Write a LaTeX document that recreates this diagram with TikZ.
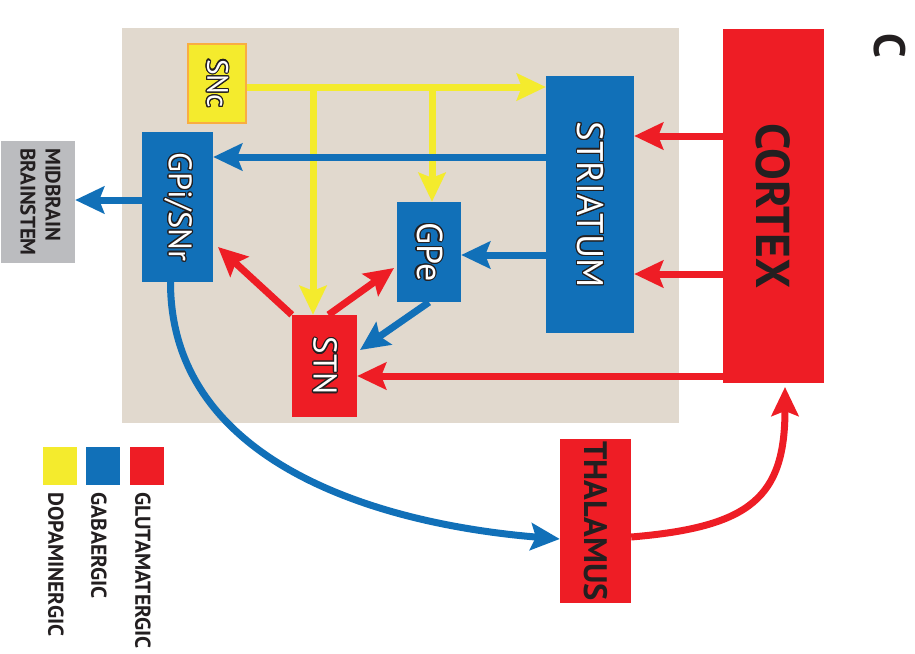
\documentclass[tikz,border=0pt]{standalone}
\usepackage{fontspec}
\setmainfont{PT Sans}
\usepackage{graphicx}
\usepackage{contour}
\contourlength{1.2pt}
\usetikzlibrary{arrows.meta}

\definecolor{dopayellow}{HTML}{F4EB2D}
\definecolor{gabablue}{HTML}{1170B8}
\definecolor{glutred}{HTML}{EE1D25}
\definecolor{basalbeige}{HTML}{E1D9CE}
\definecolor{stemgray}{HTML}{BBBCBF}
\definecolor{sncorange}{HTML}{F9AD42}
\definecolor{inkblack}{HTML}{231F20}

\newcommand{\OutlineLabel}[2]{\rotatebox{-90}{\fontsize{#1}{#1}\selectfont\contour{inkblack}{\textcolor{white}{#2}}}}
\newcommand{\InkLabel}[2]{\rotatebox{-90}{\fontsize{#1}{#1}\selectfont\bfseries\textcolor{inkblack}{#2}}}

\tikzset{
  BoxStyle/.style={rectangle, inner sep=0pt},
  EdgeStyle/.style={line width=7pt, -{Stealth[length=29pt,width=27pt,inset=5pt]}},
  DopaEdge/.style={EdgeStyle, draw=dopayellow},
  GabaEdge/.style={EdgeStyle, draw=gabablue},
  GlutEdge/.style={EdgeStyle, draw=glutred},
  KeyBox/.style={BoxStyle, minimum width=34pt, minimum height=38pt},
  KeyText/.style={rotate=-90, anchor=west, inner sep=0pt, text=inkblack, font=\bfseries\fontsize{21.5}{21.5}\selectfont}
}

\begin{document}
\begin{tikzpicture}[x=1pt,y=-1pt]
\useasboundingbox (0,0) rectangle (915,653);

% boxes
\node[BoxStyle, fill=basalbeige, minimum width=557pt, minimum height=395pt] (basal) at (400.5,225.5) {};
\node[BoxStyle, fill=dopayellow, draw=sncorange, line width=1.5pt, minimum width=58pt, minimum height=79pt] (snc) at (217,83.5) {\OutlineLabel{29.5}{SNc}};
\node[BoxStyle, fill=gabablue, minimum width=71pt, minimum height=150pt] (gpi) at (177.5,207) {\OutlineLabel{32.5}{GPi/SNr}};
\node[BoxStyle, fill=stemgray, minimum width=74pt, minimum height=122pt] (midbrain) at (38,202) {\rotatebox{-90}{\fontsize{21}{25}\selectfont\bfseries\color{inkblack}\begin{tabular}{@{}l@{}}MIDBRAIN\\BRAINSTEM\end{tabular}}};
\node[BoxStyle, fill=gabablue, minimum width=88pt, minimum height=257pt] (striatum) at (590,204.5) {\OutlineLabel{37}{STRIATUM}};
\node[BoxStyle, fill=glutred, minimum width=101pt, minimum height=354pt] (cortex) at (773.5,206) {\InkLabel{47.5}{CORTEX}};
\node[BoxStyle, fill=gabablue, minimum width=64pt, minimum height=100pt] (gpe) at (429,252) {\OutlineLabel{36}{GPe}};
\node[BoxStyle, fill=glutred, minimum width=65pt, minimum height=102pt] (stn) at (324.5,366) {\OutlineLabel{33}{STN}};
\node[BoxStyle, fill=glutred, minimum width=71pt, minimum height=164pt] (thalamus) at (595.5,521) {\InkLabel{32.5}{THALAMUS}};
\node (paneltag) at (890,46) {\InkLabel{44}{C}};

% key
\node[KeyBox, fill=dopayellow] (keydopa) at (60,466) {};
\node[KeyBox, fill=gabablue] (keygaba) at (103,466) {};
\node[KeyBox, fill=glutred] (keyglut) at (147,466) {};
\node[KeyText] (txtdopa) at (56,492) {DOPAMINERGIC};
\node[KeyText] (txtgaba) at (99,492) {GABAERGIC};
\node[KeyText] (txtglut) at (143,492) {GLUTAMATERGIC};

% dopaminergic
\coordinate (dopaA) at (313,87);
\coordinate (dopaB) at (432,87);
\draw[DopaEdge] ([yshift=-3.5pt]snc.east) -- ([yshift=-3.5pt]snc.east -| striatum.west);
\draw[DopaEdge] (dopaA) -- (dopaA |- stn.north);
\draw[DopaEdge] (dopaB) -- (dopaB |- gpe.north);

% gabaergic
\coordinate (gpiIn) at (218,247);
\coordinate (gpeIn) at (394,268);
\coordinate (stnIn) at (360,350);
\coordinate (cortexIn) at (785,387);
\draw[GabaEdge] (striatum.west |- 0,157) -- (gpi.east |- 0,157);
\draw[GabaEdge] (striatum.west |- 0,255) -- (gpe.east |- 0,255);
\draw[GabaEdge] (gpe.south) -- (stnIn);
\draw[GabaEdge] (gpi.west |- 0,200) -- (midbrain.east |- 0,200);
\draw[GabaEdge] ([xshift=-7pt]gpi.south) .. controls +(0,180) and +(-183,-15) .. (thalamus.west |- 0,539);

% glutamatergic
\draw[GlutEdge] (cortex.west |- 0,136) -- (striatum.east |- 0,136);
\draw[GlutEdge] (cortex.west |- 0,274) -- (striatum.east |- 0,274);
\draw[GlutEdge] (cortex.west |- 0,376) -- (stn.east |- 0,376);
\draw[GlutEdge] (stn.north west) -- (gpiIn);
\draw[GlutEdge] ([xshift=4pt]stn.north) -- (gpeIn);
\draw[GlutEdge] (thalamus.east |- 0,537) .. controls +(120,-10) and +(0,110) .. (cortexIn);
\end{tikzpicture}
\end{document}
